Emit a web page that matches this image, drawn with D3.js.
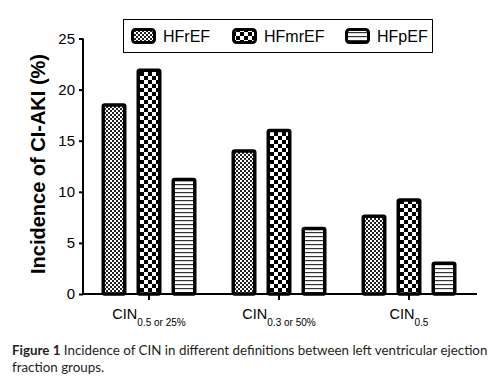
<!DOCTYPE html>
<html lang="en">
<head>
<meta charset="UTF-8">
<title>CIN incidence</title>
<script src="https://d3js.org/d3.v7.min.js"></script>
<style>
    body { margin: 0; background: #fff; }
    svg text { font-family: "Liberation Sans", Arial, sans-serif; fill: #000; }
    .caption text { font-family: Lato, "Open Sans", sans-serif; fill: #231f20; }
</style>
</head>
<body>
<script>
    // data
    var categories = ["CIN_0.5 or 25%", "CIN_0.3 or 50%", "CIN_0.5"];
    var catMain = ["CIN", "CIN", "CIN"];
    var catSub = ["0.5 or 25%", "0.3 or 50%", "0.5"];
    var series = ["HFrEF", "HFmrEF", "HFpEF"];
    var hfref = [18.5, 14.0, 7.6];
    var hfmref = [21.9, 16.0, 9.2];
    var hfpef = [11.2, 6.4, 3.0];
    var yTicks = [0, 5, 10, 15, 20, 25];

    var values = [hfref, hfmref, hfpef];

    var W = 493, H = 377;
    var svg = d3.select("body").append("svg")
        .attr("width", W).attr("height", H);

    var defs = svg.append("defs");
    // fine checker for HFrEF
    var p1 = defs.append("pattern").attr("id", "pat0")
        .attr("patternUnits", "userSpaceOnUse").attr("width", 4).attr("height", 4);
    p1.append("rect").attr("width", 4).attr("height", 4).attr("fill", "#fff");
    p1.append("rect").attr("width", 2).attr("height", 2).attr("fill", "#222");
    p1.append("rect").attr("x", 2).attr("y", 2).attr("width", 2).attr("height", 2).attr("fill", "#222");
    // coarse checker for HFmrEF
    var p2 = defs.append("pattern").attr("id", "pat1")
        .attr("patternUnits", "userSpaceOnUse").attr("width", 8).attr("height", 8);
    p2.append("rect").attr("width", 8).attr("height", 8).attr("fill", "#fff");
    p2.append("rect").attr("width", 4).attr("height", 4).attr("fill", "#000");
    p2.append("rect").attr("x", 4).attr("y", 4).attr("width", 4).attr("height", 4).attr("fill", "#000");
    // horizontal lines for HFpEF
    var p3 = defs.append("pattern").attr("id", "pat2")
        .attr("patternUnits", "userSpaceOnUse").attr("width", 4).attr("height", 4);
    p3.append("rect").attr("width", 4).attr("height", 4).attr("fill", "#fff");
    p3.append("rect").attr("y", 0).attr("width", 4).attr("height", 1.2).attr("fill", "#333");

    var y = d3.scaleLinear().domain([0, 25]).range([294, 38.5]);
    var x0 = d3.scaleBand().domain(categories).range([84, 474]).paddingInner(0).paddingOuter(0);
    var x1 = d3.scaleBand().domain(series).range([0, x0.bandwidth()])
        .paddingInner(10 / 35).paddingOuter(0.5);

    // bars
    var groups = svg.selectAll("g.grp").data(categories).enter().append("g")
        .attr("class", "grp")
        .attr("transform", function (d) { return "translate(" + x0(d) + ",0)"; });
    groups.selectAll("rect").data(function (d, i) {
        return series.map(function (s, j) { return { s: s, j: j, v: values[j][i] }; });
    }).enter().append("rect")
        .attr("x", function (d) { return x1(d.s) + 1.75; })
        .attr("width", x1.bandwidth() - 3.5)
        .attr("y", function (d) { return y(d.v); })
        .attr("height", function (d) { return y(0) - y(d.v); })
        .attr("rx", 1.5)
        .attr("fill", function (d) { return "url(#pat" + d.j + ")"; })
        .attr("stroke", "#000")
        .attr("stroke-width", 3.5);

    // y axis
    var yAxis = svg.append("g").attr("transform", "translate(83,0)")
        .call(d3.axisLeft(y).tickValues(yTicks).tickSize(4).tickPadding(4));
    yAxis.select(".domain").attr("d", "M0," + y(25) + "V" + y(0)).attr("stroke-width", 2);
    yAxis.selectAll(".tick line").attr("stroke-width", 2);
    yAxis.selectAll(".tick text").style("font-size", "15px").style("font-family", "Liberation Sans, Arial, sans-serif");

    // x axis
    var xAxis = svg.append("g").attr("transform", "translate(0," + y(0) + ")")
        .call(d3.axisBottom(x0).tickSize(6).tickFormat(""));
    xAxis.select(".domain").attr("d", "M82,0H477").attr("stroke-width", 2);
    xAxis.selectAll(".tick line").attr("stroke-width", 2);

    var lab = svg.selectAll("text.cat").data(categories).enter().append("text")
        .attr("class", "cat")
        .attr("x", function (d) { return x0(d) + x0.bandwidth() / 2; })
        .attr("y", 318.5)
        .attr("text-anchor", "middle");
    lab.append("tspan").style("font-size", "14.5px").text(function (d, i) { return catMain[i]; });
    lab.append("tspan").attr("dy", 7).style("font-size", "10px").text(function (d, i) { return catSub[i]; });

    // y title
    svg.append("text")
        .attr("transform", "translate(45,164) rotate(-90)")
        .attr("text-anchor", "middle")
        .style("font-size", "20px").style("font-weight", "bold")
        .text("Incidence of CI-AKI (%)");

    // legend
    var leg = svg.append("g");
    leg.append("rect").attr("x", 123.5).attr("y", 19.5).attr("width", 309).attr("height", 33)
        .attr("fill", "#fff").attr("stroke", "#000").attr("stroke-width", 1);
    var legX = [131, 232, 345];
    series.forEach(function (s, j) {
        leg.append("rect").attr("x", legX[j] + 1.5).attr("y", 29.5)
            .attr("width", 22).attr("height", 13).attr("rx", 3)
            .attr("fill", "url(#pat" + j + ")").attr("stroke", "#000").attr("stroke-width", 3);
        leg.append("text").attr("x", legX[j] + 32).attr("y", 42)
            .style("font-size", "16px").text(s);
    });

    // caption
    var cap = svg.append("g").attr("class", "caption");
    var l1 = cap.append("text").attr("x", 12).attr("y", 355).style("font-size", "13px");
    l1.append("tspan").style("font-weight", "bold").text("Figure 1");
    l1.append("tspan").text(" Incidence of CIN in different definitions between left ventricular ejection");
    var len = l1.node().getComputedTextLength();
    l1.style("font-size", (13 * 476 / len) + "px");
    cap.append("text").attr("x", 12).attr("y", 372).style("font-size", (13 * 476 / len) + "px")
        .text("fraction groups.");
</script>
</body>
</html>
